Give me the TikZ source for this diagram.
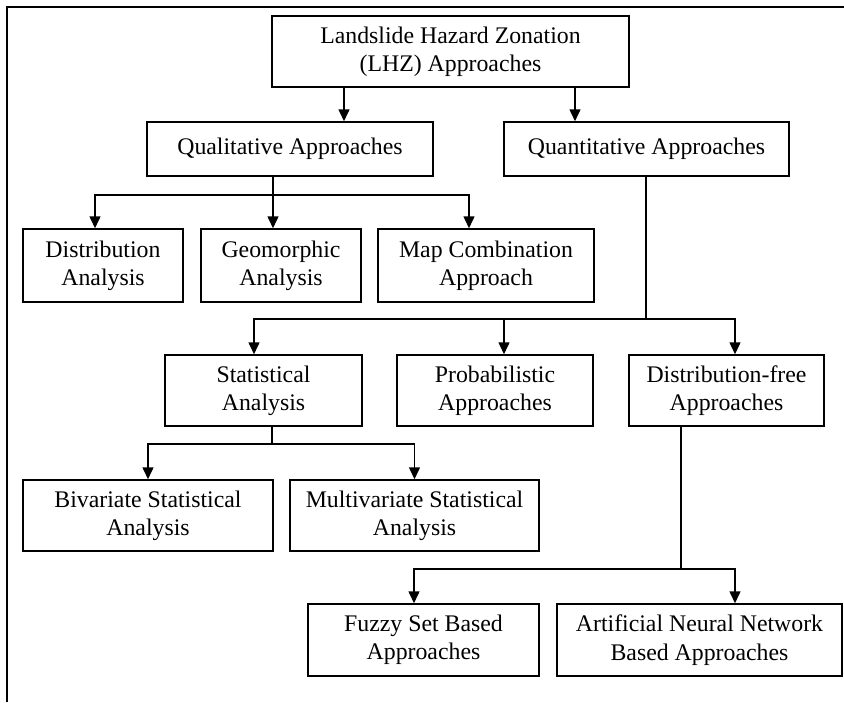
\documentclass[tikz,border=0pt]{standalone}
\usepackage{fontspec}
\setmainfont{Liberation Serif}
\usetikzlibrary{arrows.meta}

\begin{document}
\begin{tikzpicture}[x=1pt,y=-1pt,
    box/.style={draw, line width=1.5pt, align=center, inner sep=0pt,
                font=\fontsize{23.8}{28.3}\selectfont},
    arr/.style={line width=1.5pt, -{Triangle[width=11pt,length=12pt]}},
    link/.style={line width=1.5pt}]

            % Page size and frame
            \useasboundingbox (0,0) rectangle (844,702);
            \draw[link] (7,702) -- (7,7) -- (844,7);

            % Draw the boxes
            \node[box, minimum width=357, minimum height=71] (lhz) at (450.5,51.5) {Landslide Hazard Zonation\\(LHZ) Approaches};

            \node[box, minimum width=286, minimum height=54] (qual) at (290,149) {Qualitative Approaches};
            \node[box, minimum width=285, minimum height=54] (quant) at (646.5,149) {Quantitative Approaches};

            \node[box, minimum width=160, minimum height=73] (distr) at (103,265.5) {Distribution\\Analysis};
            \node[box, minimum width=160, minimum height=73] (geo) at (281,265.5) {Geomorphic\\Analysis};
            \node[box, minimum width=216, minimum height=73] (mapc) at (486,265.5) {Map Combination\\Approach};

            \node[box, minimum width=197, minimum height=71] (stat) at (263.5,390.5) {Statistical\\Analysis};
            \node[box, minimum width=196, minimum height=71] (prob) at (495,390.5) {Probabilistic\\Approaches};
            \node[box, minimum width=195, minimum height=71] (dfree) at (726.5,390.5) {Distribution-free\\Approaches};

            \node[box, minimum width=250, minimum height=71] (biv) at (148,515.5) {Bivariate Statistical\\Analysis};
            \node[box, minimum width=249, minimum height=71] (multi) at (414.5,515.5) {Multivariate Statistical\\Analysis};

            \node[box, minimum width=231, minimum height=72] (fuzzy) at (423.5,640) {Fuzzy Set Based\\Approaches};
            \node[box, minimum width=285, minimum height=72] (ann) at (699.5,640) {Artificial Neural Network\\Based Approaches};

            % Branching points
            \coordinate (qj) at (273,195);
            \coordinate (nj) at (646,319);
            \coordinate (sj) at (272,444);
            \coordinate (dj) at (681,569);

            % Draw LHZ arrows
            \draw[arr] ([xshift=-106.5]lhz.south) -- ([xshift=-106.5]lhz.south |- qual.north);
            \draw[arr] ([xshift=124.5]lhz.south) -- ([xshift=124.5]lhz.south |- quant.north);

            % Draw qualitative branches
            \draw[link] (qj |- qual.south) -- (qj);
            \draw[arr] (qj) -| ([xshift=-8]distr.north);
            \draw[arr] (qj) -- (qj |- geo.north);
            \draw[arr] (qj) -| ([xshift=-17]mapc.north);

            % Draw quantitative branches
            \draw[link] (nj |- quant.south) -- (nj);
            \draw[arr] (nj) -| ([xshift=-9.5]stat.north);
            \draw[arr] (nj) -| ([xshift=9]prob.north);
            \draw[arr] (nj) -| ([xshift=8.5]dfree.north);

            % Draw statistical branches
            \draw[link] (sj |- stat.south) -- (sj);
            \draw[arr] (sj) -| (biv.north);
            \draw[arr] (sj) -| (multi.north);

            % Draw distribution-free branches
            \draw[link] (dj |- dfree.south) -- (dj);
            \draw[arr] (dj) -| ([xshift=-9.5]fuzzy.north);
            \draw[arr] (dj) -| ([xshift=35.5]ann.north);
\end{tikzpicture}
\end{document}
